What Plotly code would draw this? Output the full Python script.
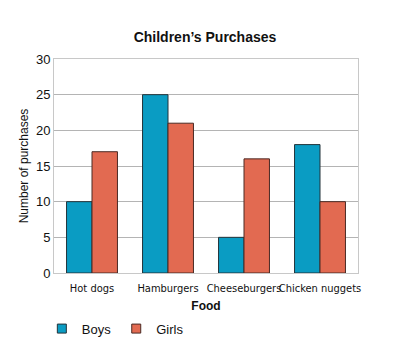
import plotly.graph_objects as go

foods = ["Hot dogs", "Hamburgers", "Cheeseburgers", "Chicken nuggets"]
boys = [10, 25, 5, 18]
girls = [17, 21, 16, 10]
y_ticks = [0, 5, 10, 15, 20, 25, 30]
series_names = ["Boys", "Girls"]
series_colors = ["#0A9CC3", "#E26A51"]
series_edges = ["#23333A", "#4A2A24"]

fig = go.Figure()
for name, vals, col, edge in zip(series_names, [boys, girls], series_colors, series_edges):
    fig.add_bar(name=name, x=foods, y=vals, showlegend=False, legendgroup=name,
                marker=dict(color=col, line=dict(color=edge, width=1)))
# legend entries drawn as small squares, like the reference
for name, col, edge in zip(series_names, series_colors, series_edges):
    fig.add_scatter(name=name, x=[None], y=[None], mode="markers", legendgroup=name,
                    marker=dict(symbol="square", size=9, color=col, line=dict(color=edge, width=1)))

font_family = "Liberation Sans, Arial, sans-serif"
narrow = "Liberation Sans Narrow, DejaVu Sans Condensed, Liberation Sans, Arial, sans-serif"
# page body has an 8px margin, so the figure is drawn 8px in from the top-left
W, H = 396, 351
fig.update_layout(
    width=W, height=H,
    margin=dict(l=46, r=46, t=51, b=86),
    paper_bgcolor="white", plot_bgcolor="white",
    barmode="group", bargap=0.33, bargroupgap=0,
    font=dict(family=font_family, size=12, color="#111111"),
    title=dict(text="<b>Children’s Purchases</b>", x=(205 - 8) / W, xanchor="center", xref="container",
               y=1 - 29 / H, yanchor="middle", yref="container",
               font=dict(size=14, color="#111111")),
    legend=dict(orientation="h", x=-0.04, xanchor="left", y=-0.26, yanchor="middle",
                font=dict(size=13), itemwidth=30, traceorder="normal"),
    showlegend=True,
)
fig.update_xaxes(
    title=dict(text="<b>Food</b>", standoff=7, font=dict(size=12)),
    showline=True, linecolor="#C8C8C8", mirror=True, ticks="", tickangle=0,
    tickfont=dict(size=11, family=narrow), ticklabelstandoff=5, automargin=False,
)
fig.update_yaxes(
    title=dict(text="Number of purchases", standoff=4, font=dict(size=12)),
    range=[0, 30], tickvals=y_ticks, showgrid=True, gridcolor="#B4B4B4",
    showline=True, linecolor="#C8C8C8", mirror=True, zeroline=False, ticks="",
    tickfont=dict(size=13), automargin=False,
)
fig.write_html("out.html")
